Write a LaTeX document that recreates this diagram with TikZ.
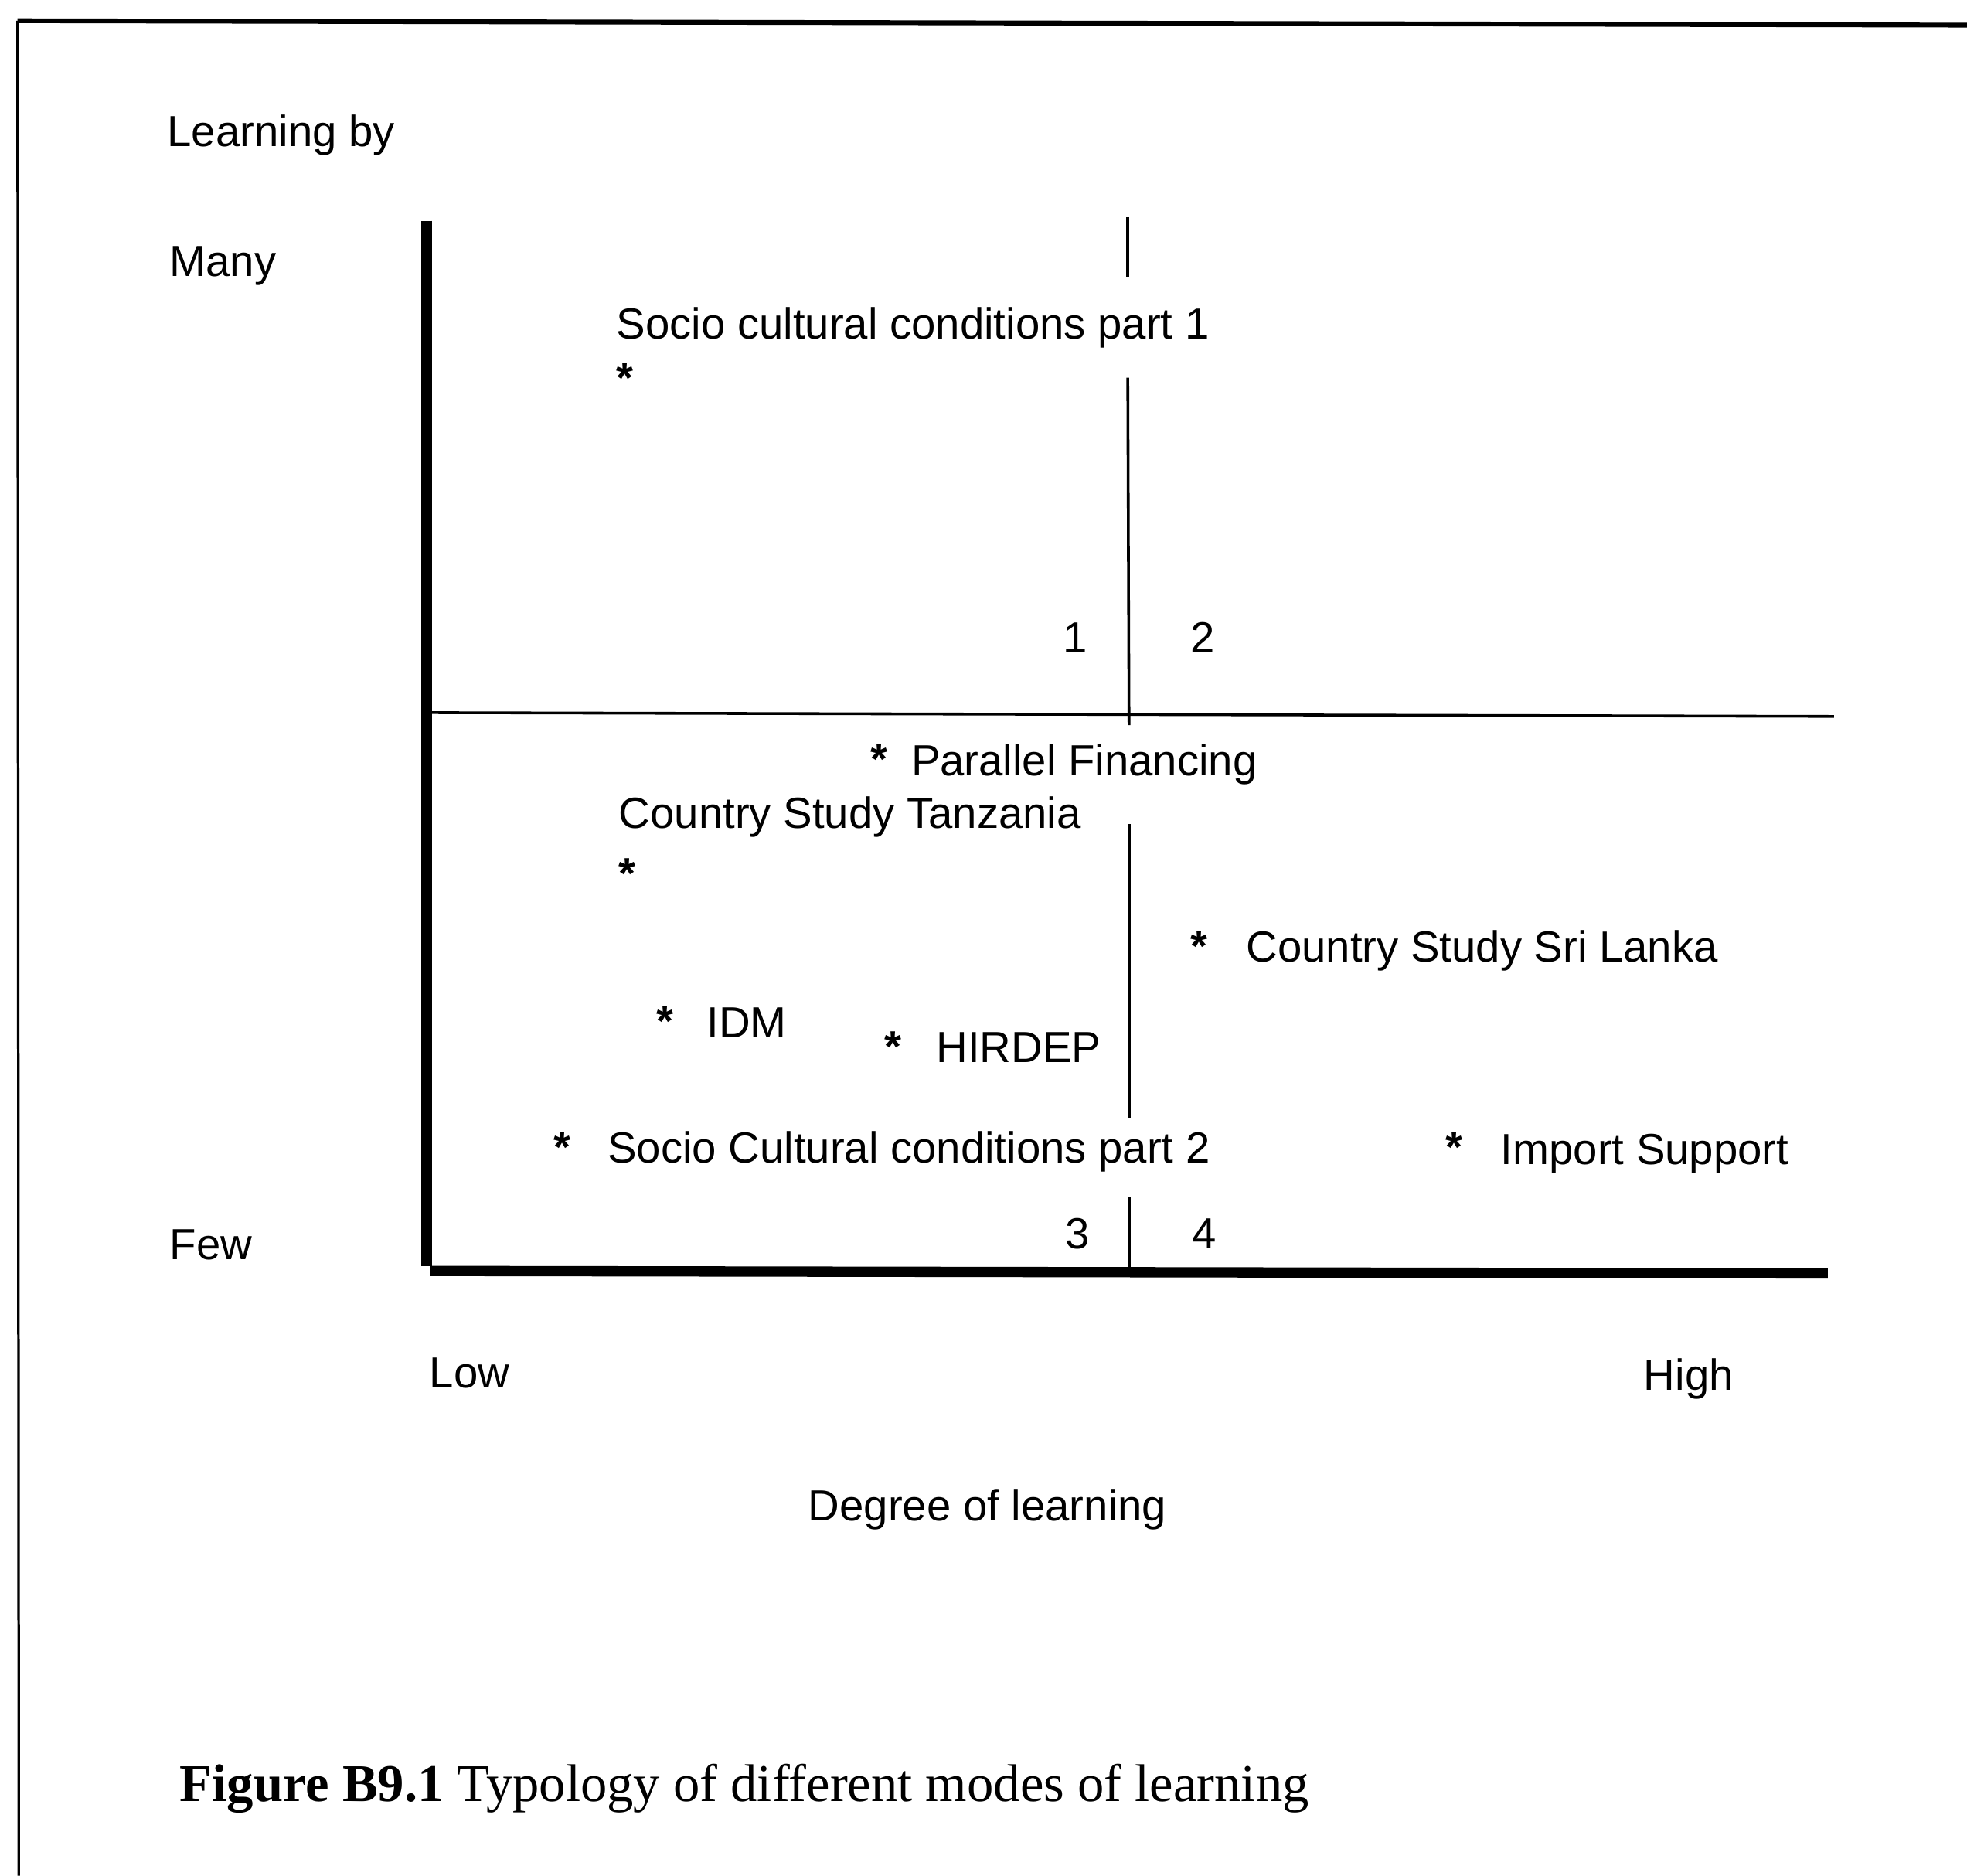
\documentclass[tikz,border=0pt]{standalone}
\usepackage{fontspec}
\setmainfont{Liberation Sans}
\newfontfamily\captionserif{Liberation Serif}
\begin{document}
\begin{tikzpicture}[x=0.5pt,y=-0.5pt,
  lbl/.style={anchor=base west,inner sep=0pt,font=\fontsize{17.35}{20}\selectfont},
  num/.style={anchor=base,inner sep=0pt,font=\fontsize{17.35}{20}\selectfont},
  starmark/.style={anchor=base,inner sep=0pt,font=\bfseries\fontsize{17.35}{20}\selectfont},
  axisline/.style={line width=4.1pt},
  divider/.style={line width=1.1pt},
  topframe/.style={line width=1.9pt},
  sideframe/.style={line width=1pt}]
\useasboundingbox (0,0) rectangle (1568,1495);

% frame round the figure
\coordinate (ftl) at (14,16.5);
\coordinate (ftr) at (1568,20);
\coordinate (fbl) at (15,1495);
\draw[topframe] (ftl) -- (ftr);
\draw[sideframe] (ftl) -- (fbl);

% axes
\coordinate (ytop) at (340,176);
\coordinate (ybot) at (340,1009);
\coordinate (xleft) at (343,1013);
\coordinate (xright) at (1457,1015);
\draw[axisline] (ytop) -- (ybot);
\draw[axisline] (xleft) -- (xright);

% quadrant dividers
\coordinate (hl) at (343,568);
\coordinate (hr) at (1462,571);
\draw[divider] (hl) -- (hr);
\coordinate (v1a) at (899,173);  \coordinate (v1b) at (899,221);
\coordinate (v2a) at (899,301);  \coordinate (v2b) at (900,578);
\coordinate (v3a) at (900,657);  \coordinate (v3b) at (900,891);
\coordinate (v4a) at (900,954);  \coordinate (v4b) at (900,1014);
\draw[divider] (v1a) -- (v1b);
\draw[divider] (v2a) -- (v2b);
\draw[divider] (v3a) -- (v3b);
\draw[divider] (v4a) -- (v4b);

% axis labels
\node[lbl] (learnby) at (133,117) {Learning by};
\node[lbl] (many) at (135,220) {Many};
\node[lbl] (few) at (135,1004) {Few};
\node[lbl] (low) at (342,1106) {Low};
\node[lbl] (high) at (1310,1108) {High};
\node[lbl] (degree) at (644,1212) {Degree of learning};

% quadrant numbers
\node[num] (q1) at (857,520) {1};
\node[num] (q2) at (959,520) {2};
\node[num] (q3) at (859,995) {3};
\node[num] (q4) at (960,995) {4};

% cases
\node[lbl] (scp1) at (491,270) {Socio cultural conditions part 1};
\node[starmark] (scp1s) at (498,313) {*};
\node[starmark] (pfs) at (701,617) {*};
\node[lbl] (pf) at (726,618) {Parallel Financing};
\node[lbl] (cst) at (493,660) {Country Study Tanzania};
\node[starmark] (csts) at (500,708) {*};
\node[starmark] (cssls) at (956,766) {*};
\node[lbl] (cssl) at (993,767) {Country Study Sri Lanka};
\node[starmark] (idms) at (530,826) {*};
\node[lbl] (idm) at (563,827) {IDM};
\node[starmark] (hirs) at (712,846) {*};
\node[lbl] (hir) at (746,847) {HIRDEP};
\node[starmark] (scp2s) at (448,926) {*};
\node[lbl] (scp2) at (484,927) {Socio Cultural conditions part 2};
\node[starmark] (imps) at (1159,926) {*};
\node[lbl] (imp) at (1196,928) {Import Support};

% caption
\node[anchor=base west,inner sep=0pt,font=\captionserif\fontsize{21.15}{24}\selectfont] (cap) at (143,1436)
  {\textbf{Figure B9.1} Typology of different modes of learning};
\end{tikzpicture}
\end{document}
